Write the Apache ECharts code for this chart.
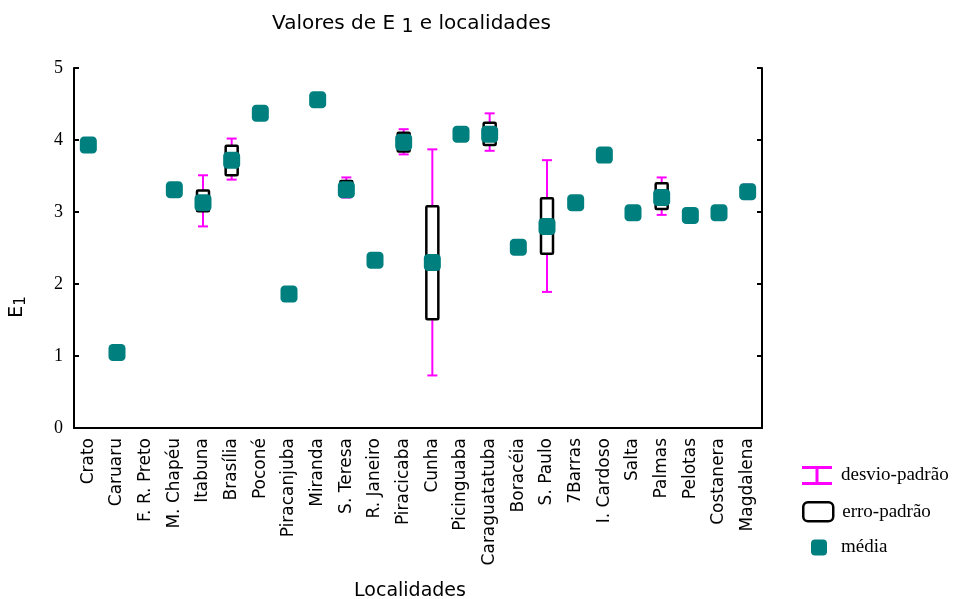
<!DOCTYPE html>
<html>
<head>
<meta charset="utf-8">
<script src="https://cdn.jsdelivr.net/npm/echarts@6/dist/echarts.min.js"></script>
<style>
  html, body { margin: 0; padding: 0; background: #fff; }
  #chart { width: 956px; height: 599px; }
</style>
</head>
<body>
<div id="chart"></div>
<script>
// localidades
var categories = ["Crato", "Caruaru", "F. R. Preto", "M. Chapéu", "Itabuna", "Brasília", "Poconé",
  "Piracanjuba", "Miranda", "S. Teresa", "R. Janeiro", "Piracicaba", "Cunha", "Picinguaba",
  "Caraguatatuba", "Boracéia", "S. Paulo", "7Barras", "I. Cardoso", "Salta", "Palmas",
  "Pelotas", "Costanera", "Magdalena"];

// média
var meanValues = [3.93, 1.05, null, 3.31, 3.13, 3.72, 4.37, 1.86, 4.56, 3.31, 2.33, 3.97, 2.30, 4.08,
  4.08, 2.51, 2.80, 3.13, 3.79, 2.99, 3.20, 2.95, 2.99, 3.28];

// erro-padrão (limites)
var seLow  = [null, null, null, null, 3.01, 3.51, null, null, null, 3.22, null, 3.84, 1.51, null,
  3.93, null, 2.42, null, null, null, 3.04, null, null, 3.22];
var seHigh = [null, null, null, null, 3.30, 3.92, null, null, null, 3.43, null, 4.10, 3.08, null,
  4.24, null, 3.19, null, null, null, 3.40, null, null, 3.34];

// desvio-padrão (limites)
var sdLow  = [null, null, null, null, 2.80, 3.45, null, null, null, 3.20, null, 3.80, 0.73, null,
  3.85, null, 1.89, null, null, null, 2.96, null, null, 3.18];
var sdHigh = [null, null, null, null, 3.51, 4.02, null, null, null, 3.48, null, 4.15, 3.87, null,
  4.37, null, 3.72, null, null, null, 3.48, null, null, 3.38];

var yTicks = [0, 1, 2, 3, 4, 5];

var TEAL = "#007f7f";
var MAGENTA = "#ff00ff";
var SERIF = "Liberation Serif";
var SANS = "DejaVu Sans";

function rangeData(lo, hi) {
  var out = [];
  categories.forEach(function (c, i) {
    if (lo[i] != null && hi[i] != null) out.push([i, lo[i], hi[i]]);
  });
  return out;
}

function renderSd(params, api) {
  var p1 = api.coord([api.value(0), api.value(1)]);
  var p2 = api.coord([api.value(0), api.value(2)]);
  var half = 5;
  var st = { stroke: MAGENTA, lineWidth: 2 };
  return {
    type: "group",
    children: [
      { type: "line", shape: { x1: p1[0], y1: p1[1], x2: p2[0], y2: p2[1] }, style: st },
      { type: "line", shape: { x1: p1[0] - half, y1: p1[1], x2: p1[0] + half, y2: p1[1] }, style: st },
      { type: "line", shape: { x1: p2[0] - half, y1: p2[1], x2: p2[0] + half, y2: p2[1] }, style: st }
    ]
  };
}

function renderSe(params, api) {
  var p1 = api.coord([api.value(0), api.value(1)]);
  var p2 = api.coord([api.value(0), api.value(2)]);
  var w = 12;
  return {
    type: "rect",
    shape: { x: p1[0] - w / 2, y: p2[1], width: w, height: p1[1] - p2[1], r: 1 },
    style: { fill: "#fff", stroke: "#000", lineWidth: 2.5 }
  };
}

var chart = echarts.init(document.getElementById("chart"));

var legendText = { fontFamily: SERIF, fontSize: 19, color: "#000" };

var option = {
  animation: false,
  title: {
    text: "Valores de E {sub|1} e localidades",
    left: 267,
    top: 5,
    textStyle: {
      fontFamily: SANS,
      fontSize: 20,
      fontWeight: "normal",
      color: "#000",
      rich: {
        sub: { fontFamily: SANS, fontSize: 19, padding: [8, 0, 0, 0], verticalAlign: "bottom" }
      }
    }
  },
  legend: [
    {
      left: 797, top: 461, orient: "vertical", selectedMode: false,
      itemWidth: 30, itemHeight: 19,
      textStyle: Object.assign({ padding: [0, 0, 0, 4] }, legendText),
      data: [{ name: "desvio-padrão",
        icon: "path://M0 0H30V3H16.5V16H30V19H0V16H13.5V3H0Z",
        itemStyle: { color: MAGENTA } }]
    },
    {
      left: 797, top: 496, orient: "vertical", selectedMode: false,
      itemWidth: 30, itemHeight: 19,
      textStyle: Object.assign({ padding: [0, 0, 0, 4] }, legendText),
      data: [{ name: "erro-padrão", icon: "roundRect",
        itemStyle: { color: "#fff", borderColor: "#000", borderWidth: 2.5 } }]
    },
    {
      left: 806, top: 533, orient: "vertical", selectedMode: false,
      itemWidth: 16, itemHeight: 16,
      textStyle: Object.assign({ padding: [0, 0, 0, 9] }, legendText),
      data: [{ name: "média", icon: "roundRect", itemStyle: { color: TEAL } }]
    }
  ],
  grid: { left: 74, right: 194, top: 68, bottom: 171, show: false, outerBoundsMode: "none" },
  xAxis: [
    {
      type: "category",
      data: categories,
      boundaryGap: true,
      name: "Localidades",
      nameLocation: "middle",
      nameGap: 154,
      nameTextStyle: { fontFamily: SANS, fontSize: 19, color: "#000", padding: [0, 16, 0, 0] },
      axisLine: { lineStyle: { color: "#000", width: 2 } },
      axisTick: { inside: true, length: 5, lineStyle: { color: "#000", width: 2 } },
      axisLabel: { rotate: 90, interval: 0, margin: 10, fontFamily: SANS, fontSize: 17, color: "#000" },
      splitLine: { show: false }
    },
    {
      type: "category",
      data: categories,
      position: "top",
      boundaryGap: true,
      axisLine: { lineStyle: { color: "#000", width: 2 } },
      axisTick: { inside: true, length: 5, lineStyle: { color: "#000", width: 2 } },
      axisLabel: { show: false },
      splitLine: { show: false }
    }
  ],
  yAxis: [
    {
      type: "value",
      min: 0, max: 5, interval: 1,
      name: "E{sub|1}",
      nameLocation: "middle",
      nameRotate: 90,
      nameGap: 45,
      nameTextStyle: {
        fontFamily: SANS, fontSize: 19, color: "#000", padding: [0, 118, 0, 0],
        rich: { sub: { fontFamily: SANS, fontSize: 15, padding: [8, 0, 0, 0], verticalAlign: "bottom" } }
      },
      axisLine: { show: true, lineStyle: { color: "#000", width: 2 } },
      axisTick: { show: true, inside: true, length: 5, lineStyle: { color: "#000", width: 2 } },
      axisLabel: { margin: 11, fontFamily: SERIF, fontSize: 18, color: "#000",
        formatter: function (v) { return yTicks.indexOf(v) >= 0 ? String(v) : ""; } },
      splitLine: { show: false }
    },
    {
      type: "value",
      min: 0, max: 5, interval: 1,
      position: "right",
      axisLine: { show: true, lineStyle: { color: "#000", width: 2 } },
      axisTick: { show: true, inside: true, length: 5, lineStyle: { color: "#000", width: 2 } },
      axisLabel: { show: false },
      splitLine: { show: false }
    }
  ],
  series: [
    {
      name: "desvio-padrão",
      type: "custom",
      renderItem: renderSd,
      encode: { x: 0, y: [1, 2] },
      itemStyle: { color: MAGENTA },
      data: rangeData(sdLow, sdHigh),
      z: 2
    },
    {
      name: "erro-padrão",
      type: "custom",
      renderItem: renderSe,
      encode: { x: 0, y: [1, 2] },
      itemStyle: { color: "#000" },
      data: rangeData(seLow, seHigh),
      z: 3
    },
    {
      name: "média",
      type: "scatter",
      symbol: "roundRect",
      symbolSize: 17,
      itemStyle: { color: TEAL, opacity: 1 },
      data: meanValues.map(function (v) { return v == null ? "-" : v; }),
      z: 4
    }
  ]
};

chart.setOption(option);
</script>
</body>
</html>
